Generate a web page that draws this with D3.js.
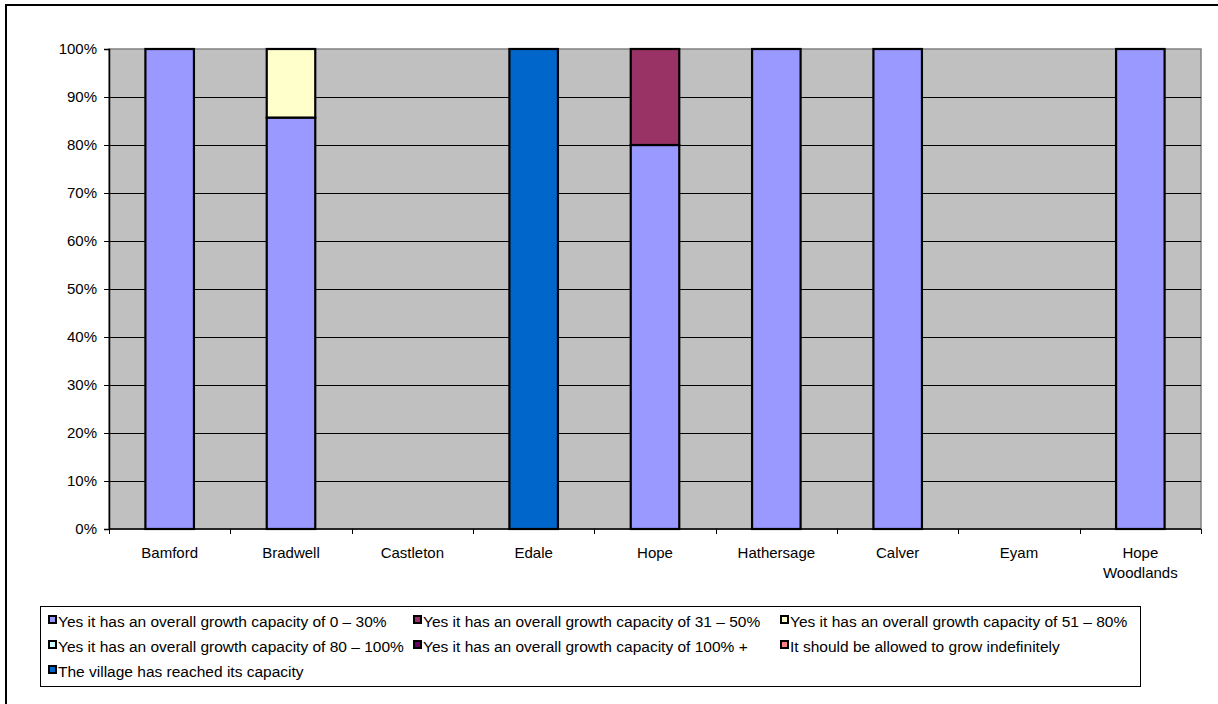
<!DOCTYPE html>
<html>
<head>
<meta charset="utf-8">
<script src="https://cdn.jsdelivr.net/npm/d3@7"></script>
<style>
  html, body { margin: 0; padding: 0; background: #fff; }
  svg { display: block; font-family: "Liberation Sans", Arial, sans-serif; }
</style>
</head>
<body>
<svg id="chart" width="1218" height="704"></svg>
<script>
// Villages surveyed
const villages = ["Bamford", "Bradwell", "Castleton", "Edale", "Hope", "Hathersage", "Calver", "Eyam", "Hope Woodlands"];

// Response categories (legend order) and their fills
const responses = [
  "Yes it has an overall growth capacity of 0 \u2013 30%",
  "Yes it has an overall growth capacity of 31 \u2013 50%",
  "Yes it has an overall growth capacity of 51 \u2013 80%",
  "Yes it has an overall growth capacity of 80 \u2013 100%",
  "Yes it has an overall growth capacity of 100% +",
  "It should be allowed to grow indefinitely",
  "The village has reached its capacity"
];
const responseColors = ["#9999FF", "#993366", "#FFFFCC", "#CCFFFF", "#660066", "#FF8080", "#0066CC"];

// Share of responses per village (fractions), one array per response category
const growth0to30   = [1, 6/7, 0, 0, 0.8, 1, 1, 0, 1];
const growth31to50  = [0, 0,   0, 0, 0.2, 0, 0, 0, 0];
const growth51to80  = [0, 1/7, 0, 0, 0,   0, 0, 0, 0];
const growth80to100 = [0, 0,   0, 0, 0,   0, 0, 0, 0];
const growth100plus = [0, 0,   0, 0, 0,   0, 0, 0, 0];
const growIndef     = [0, 0,   0, 0, 0,   0, 0, 0, 0];
const reachedCap    = [0, 0,   0, 1, 0,   0, 0, 0, 0];
const seriesValues = [growth0to30, growth31to50, growth51to80, growth80to100, growth100plus, growIndef, reachedCap];

// Y axis tick labels
const yTicks = [0, 0.1, 0.2, 0.3, 0.4, 0.5, 0.6, 0.7, 0.8, 0.9, 1.0];

const svg = d3.select("#chart");
const axisFont = 15;
const legendFont = 15.5;

// Outer chart frame (left and top edges visible)
svg.append("rect")
  .attr("x", 6).attr("y", 5).attr("width", 1240).attr("height", 740)
  .attr("fill", "none").attr("stroke", "#000").attr("stroke-width", 2);

const plot = { left: 109, top: 49, right: 1201, bottom: 529 };

const x = d3.scaleBand().domain(villages)
  .range([plot.left, plot.right]).paddingInner(0.6).paddingOuter(0.3);
const xCat = d3.scaleBand().domain(villages).range([plot.left, plot.right]);
const y = d3.scaleLinear().domain([0, 1]).range([plot.bottom, plot.top]);

// Plot background
svg.append("rect")
  .attr("x", plot.left).attr("y", plot.top)
  .attr("width", plot.right - plot.left).attr("height", plot.bottom - plot.top)
  .attr("fill", "#C0C0C0").attr("stroke", "#808080").attr("stroke-width", 1.5);

// Gridlines
svg.append("g").selectAll("line")
  .data(yTicks.filter(d => d > 0 && d < 1))
  .join("line")
  .attr("x1", plot.left).attr("x2", plot.right)
  .attr("y1", d => Math.round(y(d)) + 0.5).attr("y2", d => Math.round(y(d)) + 0.5)
  .attr("stroke", "#000").attr("stroke-width", 1);

// Stacked bars
const stackData = villages.map((v, i) => {
  const row = { village: v };
  responses.forEach((r, j) => { row[r] = seriesValues[j][i]; });
  return row;
});
const stacked = d3.stack().keys(responses)(stackData);

const layers = svg.append("g").selectAll("g")
  .data(stacked)
  .join("g")
  .attr("fill", (d, i) => responseColors[i]);

layers.selectAll("rect")
  .data(d => d.filter(p => p[1] - p[0] > 0))
  .join("rect")
  .attr("x", p => x(p.data.village))
  .attr("width", x.bandwidth())
  .attr("y", p => y(p[1]))
  .attr("height", p => y(p[0]) - y(p[1]))
  .attr("stroke", "#000").attr("stroke-width", 2.2);

// Y axis
const yAxis = d3.axisLeft(y).tickValues(yTicks).tickFormat(d3.format(".0%"))
  .tickSize(5).tickPadding(7);
const gy = svg.append("g").attr("transform", `translate(${plot.left},0)`).call(yAxis);
gy.select(".domain").attr("stroke", "#000").attr("stroke-width", 1.5);
gy.selectAll(".tick line").attr("stroke", "#000");
gy.selectAll(".tick text").attr("font-size", axisFont).attr("fill", "#000")
  .attr("font-family", "\"Liberation Sans\", Arial, sans-serif");

// X axis baseline and ticks at category boundaries
svg.append("line")
  .attr("x1", plot.left).attr("x2", plot.right)
  .attr("y1", plot.bottom).attr("y2", plot.bottom)
  .attr("stroke", "#000").attr("stroke-width", 1.5);
const boundaries = villages.map(v => xCat(v)).concat([plot.right]);
svg.append("g").selectAll("line")
  .data(boundaries)
  .join("line")
  .attr("x1", d => Math.round(d) + 0.5).attr("x2", d => Math.round(d) + 0.5)
  .attr("y1", plot.bottom).attr("y2", plot.bottom + 5)
  .attr("stroke", "#000");

// Category labels (split onto separate lines per word)
const xl = svg.append("g").selectAll("text")
  .data(villages)
  .join("text")
  .attr("x", d => xCat(d) + xCat.bandwidth() / 2)
  .attr("y", 558)
  .attr("text-anchor", "middle")
  .attr("font-size", axisFont).attr("fill", "#000");
xl.each(function(d) {
  const words = d.split(" ");
  const t = d3.select(this);
  words.forEach((w, i) => {
    t.append("tspan").attr("x", xCat(d) + xCat.bandwidth() / 2)
      .attr("dy", i === 0 ? 0 : 20).text(w);
  });
});

// Legend
const legend = svg.append("g");
legend.append("rect")
  .attr("x", 40.5).attr("y", 606.5).attr("width", 1100).attr("height", 80)
  .attr("fill", "#fff").attr("stroke", "#000").attr("stroke-width", 1);

const colX = [48, 413, 780];
const rowY = [622, 647, 672];
const items = legend.selectAll("g")
  .data(responses)
  .join("g")
  .attr("transform", (d, i) => `translate(${colX[i % 3]},${rowY[Math.floor(i / 3)]})`);
items.append("rect")
  .attr("x", 1).attr("y", -6).attr("width", 7).attr("height", 7)
  .attr("fill", (d, i) => responseColors[i])
  .attr("stroke", "#000").attr("stroke-width", 2);
items.append("text")
  .attr("x", 10).attr("y", 5)
  .attr("font-size", legendFont).attr("fill", "#000")
  .text(d => d);
</script>
</body>
</html>
